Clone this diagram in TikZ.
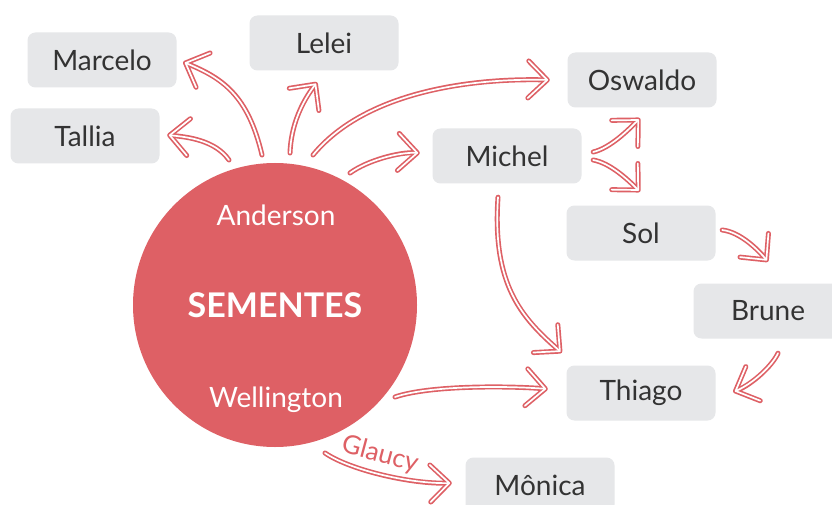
\documentclass[tikz,border=0pt]{standalone}
\usepackage{fontspec}
\setmainfont{Lato}
\usetikzlibrary{arrows.meta}
\definecolor{cred}{HTML}{DE6065}
\definecolor{cbox}{HTML}{E6E7E9}
\definecolor{ctext}{HTML}{333333}
\tikzset{
  box/.style={fill=cbox, rounded corners=8pt, minimum width=149pt, minimum height=55pt,
    inner sep=0pt, font=\fontsize{28}{30}\selectfont, text=ctext},
  arr/.style={draw=cred, line width=5pt, line cap=round,
    -{Straight Barb[length=19pt,width=37pt,round]},
    postaction={draw=white, line width=1.7pt, shorten >=1.7pt,
      -{Straight Barb[length=19pt,width=37pt,round]}}},
  inlabel/.style={text=white, font=\fontsize{28}{30}\selectfont, anchor=base},
}
\begin{document}
\begin{tikzpicture}[x=1pt, y=-1pt]
\fill[white] (0,0) rectangle (832,505);
\useasboundingbox (0,0) rectangle (832,505);

\node[circle, fill=cred, minimum size=284pt, inner sep=0pt, text=white,
  font=\bfseries\fontsize{34}{36}\selectfont] (c) at (275,305) {SEMENTES};
\node[inlabel] (anderson) at (276,225) {Anderson};
\node[inlabel] (wellington) at (276,407) {Wellington};

\node[box] (marcelo) at (102,60) {Marcelo};
\node[box] (lelei) at (324,43) {Lelei};
\node[box] (tallia) at (85,136) {Tallia};
\node[box] (oswaldo) at (642,80) {Oswaldo};
\node[box] (michel) at (507,156) {Michel};
\node[box] (sol) at (641,233) {Sol};
\node[box] (brune) at (768,311) {Brune};
\node[box] (thiago) at (641,393) {Thiago};
\node[box] (monica) at (540,485) {Mônica};

\draw[arr] ([shift={(-13,-150)}]c.center) .. controls +(-14,-60) and +(39,16) .. ([shift={(6.5,2)}]marcelo.east);
\draw[arr] ([shift={(-46,-145)}]c.center) .. controls +(-14,-20) and +(20,2) .. ([shift={(7.5,-1)}]tallia.east);
\draw[arr] ([shift={(15,-152)}]c.center) .. controls +(1,-28) and +(-15,20) .. ([shift={(-7,11.5)}]lelei.south);
\draw[arr] ([shift={(38,-150)}]c.center) .. controls +(52,-63) and +(-80,-2) .. ([shift={(-17.5,0)}]oswaldo.west);
\draw[arr] ([shift={(75,-132)}]c.center) .. controls +(18,-13) and +(-20,-1) .. ([shift={(-12.5,-3)}]michel.west);
\draw[arr] ([shift={(11.5,-4)}]michel.east) .. controls +(17,-4) and +(-12,12) .. ([shift={(-2,10.5)}]oswaldo.south);
\draw[arr] ([shift={(11.5,4)}]michel.east) .. controls +(17,3) and +(-12,-12) .. ([shift={(-1,-13.5)}]sol.north);
\draw[arr] ([shift={(-9,13.5)}]michel.south) .. controls +(-6,88) and +(-40,-35) .. ([shift={(-4.5,-12.5)}]thiago.north west);
\draw[arr] ([shift={(6.5,-3)}]sol.east) .. controls +(18,2) and +(-10,-12) .. ([shift={(0,-21.5)}]brune.north);
\draw[arr] ([shift={(10,14.5)}]brune.south) .. controls +(-6,13) and +(19,-8) .. ([shift={(17.5,-1)}]thiago.east);
\draw[arr] ([shift={(120,92)}]c.center) .. controls +(35,-12) and +(-38,-3) .. ([shift={(-18.5,-4)}]thiago.west);
\draw[arr] ([shift={(50,148)}]c.center) .. controls +(25,17) and +(-42,1) .. ([shift={(-13.5,-2)}]monica.west);

\node[text=cred, font=\fontsize{26}{28}\selectfont, rotate=-15, inner sep=1pt] (glaucy) at (380,455) {Glaucy};
\end{tikzpicture}
\end{document}
